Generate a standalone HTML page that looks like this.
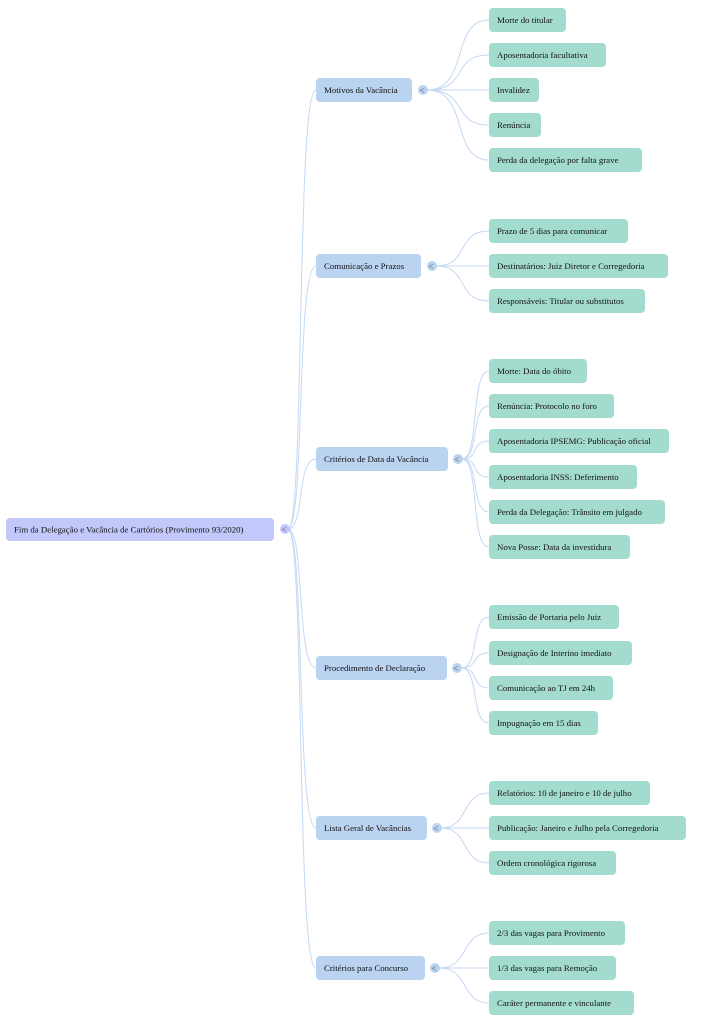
<!DOCTYPE html>
<html><head><meta charset="utf-8"><style>
html,body{margin:0;padding:0;background:#fff;width:707px;height:1024px;overflow:hidden}
svg{display:block}
text{font-family:"Liberation Serif",serif;font-size:8.8px;fill:#111}
</style></head><body>
<svg width="707" height="1024" xmlns="http://www.w3.org/2000/svg">
<g fill="none" stroke="#c4d9f3" stroke-width="1">
<path d="M288,529 C305,529 296,90 316,90"/>
<path d="M288,529 C305,529 296,266 316,266"/>
<path d="M288,529 C305,529 296,459 316,459"/>
<path d="M288,529 C305,529 296,668 316,668"/>
<path d="M288,529 C305,529 296,828 316,828"/>
<path d="M288,529 C305,529 296,968 316,968"/>
<path d="M427,90 C470,90 450,20 489,20"/>
<path d="M427,90 C470,90 450,55 489,55"/>
<path d="M427,90 C470,90 450,90 489,90"/>
<path d="M427,90 C470,90 450,125 489,125"/>
<path d="M427,90 C470,90 450,160 489,160"/>
<path d="M436,266 C470,266 455,231 489,231"/>
<path d="M436,266 C470,266 455,266 489,266"/>
<path d="M436,266 C470,266 455,301 489,301"/>
<path d="M462,459 C480,459 470,371 489,371"/>
<path d="M462,459 C480,459 470,406 489,406"/>
<path d="M462,459 C480,459 470,441 489,441"/>
<path d="M462,459 C480,459 470,477 489,477"/>
<path d="M462,459 C480,459 470,512 489,512"/>
<path d="M462,459 C480,459 470,547 489,547"/>
<path d="M461,668 C480,668 470,617 489,617"/>
<path d="M461,668 C480,668 470,653 489,653"/>
<path d="M461,668 C480,668 470,688 489,688"/>
<path d="M461,668 C480,668 470,723 489,723"/>
<path d="M441,828 C470,828 460,793 489,793"/>
<path d="M441,828 C470,828 460,828 489,828"/>
<path d="M441,828 C470,828 460,863 489,863"/>
<path d="M439,968 C470,968 460,933 489,933"/>
<path d="M439,968 C470,968 460,968 489,968"/>
<path d="M439,968 C470,968 460,1003 489,1003"/>
</g>
<rect x="6" y="518" width="268" height="23" rx="4" fill="#c2c8fa"/>
<text x="14" y="532.5">Fim da Delegação e Vacância de Cartórios (Provimento 93/2020)</text>
<circle cx="285" cy="529" r="5" fill="#c2c8fa"/><text x="281.5" y="532.5" style="font-size:9px;fill:#555">&lt;</text>
<g fill="#b9d3f0">
<rect x="316" y="78" width="96" height="24" rx="4"/>
<rect x="316" y="254" width="105" height="24" rx="4"/>
<rect x="316" y="447" width="132" height="24" rx="4"/>
<rect x="316" y="656" width="131" height="24" rx="4"/>
<rect x="316" y="816" width="111" height="24" rx="4"/>
<rect x="316" y="956" width="109" height="24" rx="4"/>
<circle cx="423" cy="90" r="5"/><circle cx="432" cy="266" r="5"/><circle cx="458" cy="459" r="5"/>
<circle cx="457" cy="668" r="5"/><circle cx="437" cy="828" r="5"/><circle cx="435" cy="968" r="5"/>
</g>
<text x="419.5" y="93.5" style="font-size:9px;fill:#555">&lt;</text>
<text x="428.5" y="269.5" style="font-size:9px;fill:#555">&lt;</text>
<text x="454.5" y="462.5" style="font-size:9px;fill:#555">&lt;</text>
<text x="453.5" y="671.5" style="font-size:9px;fill:#555">&lt;</text>
<text x="433.5" y="831.5" style="font-size:9px;fill:#555">&lt;</text>
<text x="431.5" y="971.5" style="font-size:9px;fill:#555">&lt;</text>
<text x="324" y="93">Motivos da Vacância</text>
<text x="324" y="269">Comunicação e Prazos</text>
<text x="324" y="462">Critérios de Data da Vacância</text>
<text x="324" y="671">Procedimento de Declaração</text>
<text x="324" y="831">Lista Geral de Vacâncias</text>
<text x="324" y="971">Critérios para Concurso</text>
<g fill="#a3dccf">
<rect x="489" y="8" width="77" height="24" rx="4"/>
<rect x="489" y="43" width="117" height="24" rx="4"/>
<rect x="489" y="78" width="50" height="24" rx="4"/>
<rect x="489" y="113" width="52" height="24" rx="4"/>
<rect x="489" y="148" width="153" height="24" rx="4"/>
<rect x="489" y="219" width="139" height="24" rx="4"/>
<rect x="489" y="254" width="179" height="24" rx="4"/>
<rect x="489" y="289" width="156" height="24" rx="4"/>
<rect x="489" y="359" width="98" height="24" rx="4"/>
<rect x="489" y="394" width="125" height="24" rx="4"/>
<rect x="489" y="429" width="180" height="24" rx="4"/>
<rect x="489" y="465" width="148" height="24" rx="4"/>
<rect x="489" y="500" width="176" height="24" rx="4"/>
<rect x="489" y="535" width="141" height="24" rx="4"/>
<rect x="489" y="605" width="130" height="24" rx="4"/>
<rect x="489" y="641" width="143" height="24" rx="4"/>
<rect x="489" y="676" width="124" height="24" rx="4"/>
<rect x="489" y="711" width="109" height="24" rx="4"/>
<rect x="489" y="781" width="161" height="24" rx="4"/>
<rect x="489" y="816" width="197" height="24" rx="4"/>
<rect x="489" y="851" width="127" height="24" rx="4"/>
<rect x="489" y="921" width="136" height="24" rx="4"/>
<rect x="489" y="956" width="127" height="24" rx="4"/>
<rect x="489" y="991" width="145" height="24" rx="4"/>
</g>
<text x="497" y="23">Morte do titular</text>
<text x="497" y="58">Aposentadoria facultativa</text>
<text x="497" y="93">Invalidez</text>
<text x="497" y="128">Renúncia</text>
<text x="497" y="163">Perda da delegação por falta grave</text>
<text x="497" y="234">Prazo de 5 dias para comunicar</text>
<text x="497" y="269">Destinatários: Juiz Diretor e Corregedoria</text>
<text x="497" y="304">Responsáveis: Titular ou substitutos</text>
<text x="497" y="374">Morte: Data do óbito</text>
<text x="497" y="409">Renúncia: Protocolo no foro</text>
<text x="497" y="444">Aposentadoria IPSEMG: Publicação oficial</text>
<text x="497" y="480">Aposentadoria INSS: Deferimento</text>
<text x="497" y="515">Perda da Delegação: Trânsito em julgado</text>
<text x="497" y="550">Nova Posse: Data da investidura</text>
<text x="497" y="620">Emissão de Portaria pelo Juiz</text>
<text x="497" y="656">Designação de Interino imediato</text>
<text x="497" y="691">Comunicação ao TJ em 24h</text>
<text x="497" y="726">Impugnação em 15 dias</text>
<text x="497" y="796">Relatórios: 10 de janeiro e 10 de julho</text>
<text x="497" y="831">Publicação: Janeiro e Julho pela Corregedoria</text>
<text x="497" y="866">Ordem cronológica rigorosa</text>
<text x="497" y="936">2/3 das vagas para Provimento</text>
<text x="497" y="971">1/3 das vagas para Remoção</text>
<text x="497" y="1006">Caráter permanente e vinculante</text>
</svg>
</body></html>
